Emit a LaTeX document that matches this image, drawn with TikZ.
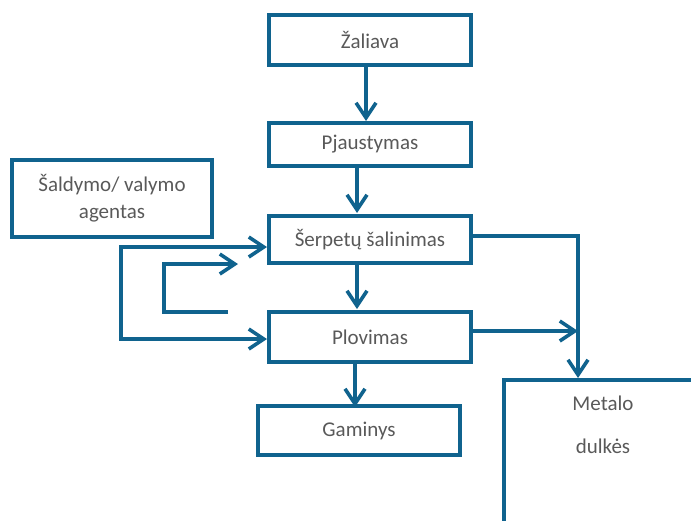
\documentclass[tikz,border=0pt]{standalone}
\usepackage{fontspec}
\setmainfont{Carlito}
\usetikzlibrary{arrows.meta}
\definecolor{ln}{RGB}{16,99,142}
\definecolor{tx}{RGB}{89,89,89}
\begin{document}
\begin{tikzpicture}[x=1pt,y=-1pt,
  >={Straight Barb[length=15pt,width=20pt]},
  lbl/.style={font=\fontsize{21}{27}\selectfont, text=tx, align=center},
  box/.style={lbl, draw=ln, line width=4pt, minimum width=202pt, inner sep=0pt},
  conn/.style={draw=ln, line width=3.6pt}]
\useasboundingbox (0,0) rectangle (691,520);
\node[box, minimum height=50pt] (zal) at (370,40) {Žaliava};
\node[box, minimum height=43pt] (pja) at (370,144.5) {Pjaustymas};
\node[box, minimum height=47pt] (serp) at (370,239.5) {Šerpetų šalinimas};
\node[box, minimum height=50pt] (plov) at (370,337) {Plovimas};
\node[box, minimum height=49pt] (gam) at (359,430.5) {Gaminys};
\node[box, minimum width=200pt, minimum height=77pt] (sal) at (112,198.5) {Šaldymo/ valymo\\agentas};
\node[draw=ln, line width=4pt, minimum width=260pt, minimum height=200pt, anchor=north west, inner sep=0pt] (met) at (502,378) {};
\node[lbl] (mettxt) at (603,424.5) {Metalo\\[16pt]dulkės};
% vertical flow
\draw[conn,->] ([xshift=-4pt]zal.south) -- ([xshift=-4pt]pja.north);
\draw[conn,->] ([xshift=-13pt,yshift=3pt]pja.south) -- ([xshift=-13pt,yshift=1pt]serp.north);
\draw[conn,->] ([xshift=-13pt,yshift=3pt]serp.south) -- ([xshift=-13pt,yshift=1pt]plov.north);
\draw[conn,->] ([xshift=-15pt,yshift=3pt]plov.south) -- ([xshift=-4pt,yshift=-3pt]gam.north);
% right side to metal dust
\coordinate (jx) at (578,331);
\draw[conn,->] ([yshift=3.5pt]serp.east) -| (met.north -| jx);
\draw[conn,->] ([yshift=6pt]plov.east) -- (jx);
% outer loop
\coordinate (ol) at (121,290);
\draw[conn,<->] ([yshift=-7.5pt]serp.west) -| (ol) |- ([yshift=-2pt]plov.west);
% inner loop
\coordinate (il1) at (228,312);
\coordinate (il2) at (238,264);
\coordinate (ic) at (164,288);
\draw[conn,->] (il1) -| (ic) |- (il2);
\end{tikzpicture}
\end{document}
